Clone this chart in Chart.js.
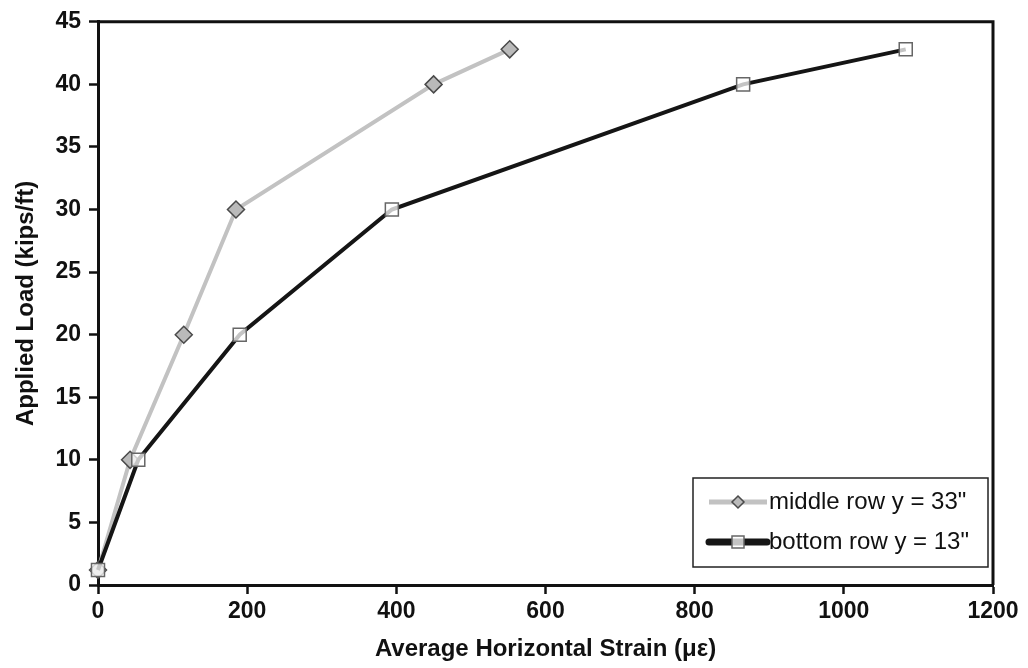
<!DOCTYPE html>
<html>
<head>
<meta charset="utf-8">
<title>Applied Load vs Average Horizontal Strain</title>
<script src="https://cdn.jsdelivr.net/npm/chart.js"></script>
<style>
  body { margin: 0; background: #fff; }
  #wrap { width: 1028px; height: 668px; position: relative; }
</style>
</head>
<body>
<div id="wrap"><canvas id="strainChart"></canvas></div>
<script>
// strain (microstrain) and load (kips/ft) for the two gauge rows
const middleStrain = [0, 43, 115, 185, 450, 552];
const middleLoad = [1.2, 10, 20, 30, 40, 42.8];
const bottomStrain = [0, 54, 190, 394, 865, 1083];
const bottomLoad = [1.2, 10, 20, 30, 40, 42.8];

const seriesLabels = ['middle row y = 33"', 'bottom row y = 13"'];

const toPoints = (xs, ys) => xs.map((x, i) => ({ x: x, y: ys[i] }));

const FONT = "'Liberation Sans', Arial, sans-serif";

// box around the plot area (top and right edges)
const frame = {
  id: 'frame',
  beforeDatasetsDraw(chart) {
    const { ctx, chartArea: a } = chart;
    ctx.save();
    ctx.strokeStyle = '#111';
    ctx.lineWidth = 3;
    ctx.beginPath();
    ctx.moveTo(a.left, a.top);
    ctx.lineTo(a.right, a.top);
    ctx.lineTo(a.right, a.bottom);
    ctx.stroke();
    ctx.restore();
  }
};

// legend box in the lower right corner of the plot
const boxLegend = {
  id: 'boxLegend',
  afterDraw(chart) {
    const { ctx, chartArea: a } = chart;
    const right = a.right - 5, bottom = a.bottom - 18;
    const left = right - 295, top = bottom - 89;
    ctx.save();
    ctx.fillStyle = '#fff';
    ctx.fillRect(left, top, right - left, bottom - top);
    ctx.strokeStyle = '#222';
    ctx.lineWidth = 1.5;
    ctx.strokeRect(left, top, right - left, bottom - top);

    const sets = chart.data.datasets;
    const rows = [top + 24, top + 64];
    const x0 = left + 16, x1 = left + 74, cx = (x0 + x1) / 2;
    [1, 0].forEach((di, r) => {
      const ds = sets[di];
      const y = rows[r];
      ctx.strokeStyle = ds.borderColor;
      ctx.lineWidth = r === 0 ? 5 : 7;
      ctx.lineCap = r === 0 ? 'butt' : 'round';
      ctx.beginPath();
      ctx.moveTo(x0, y);
      ctx.lineTo(x1, y);
      ctx.stroke();
      ctx.lineWidth = 1.5;
      ctx.fillStyle = ds.pointBackgroundColor;
      ctx.strokeStyle = ds.pointBorderColor;
      ctx.beginPath();
      if (ds.pointStyle === 'rectRot') {
        ctx.moveTo(cx, y - 6); ctx.lineTo(cx + 6, y);
        ctx.lineTo(cx, y + 6); ctx.lineTo(cx - 6, y);
        ctx.closePath();
      } else {
        ctx.rect(cx - 6, y - 6, 12, 12);
      }
      ctx.fill();
      ctx.stroke();
      ctx.fillStyle = '#111';
      ctx.font = '24px ' + FONT;
      ctx.textBaseline = 'middle';
      ctx.textAlign = 'left';
      ctx.fillText(ds.label, x1 + 2, y);
    });
    ctx.restore();
  }
};

new Chart(document.getElementById('strainChart'), {
  type: 'line',
  data: {
    datasets: [
      {
        label: seriesLabels[1],
        data: toPoints(bottomStrain, bottomLoad),
        borderColor: '#151515',
        borderWidth: 4,
        pointStyle: 'rect',
        pointRadius: 9.2,
        pointBackgroundColor: 'rgba(255,255,255,0.75)',
        pointBorderColor: '#666',
        pointBorderWidth: 1.5,
        tension: 0,
        clip: false,
        order: 1
      },
      {
        label: seriesLabels[0],
        data: toPoints(middleStrain, middleLoad),
        borderColor: '#c2c2c2',
        borderWidth: 4,
        pointStyle: 'rectRot',
        pointRadius: 8.5,
        pointBackgroundColor: '#bababa',
        pointBorderColor: '#4a4a4a',
        pointBorderWidth: 1.5,
        tension: 0,
        clip: false,
        order: 2
      }
    ]
  },
  options: {
    responsive: true,
    maintainAspectRatio: false,
    animation: false,
    layout: { padding: { left: 0, right: 35, top: 20, bottom: 0 } },
    plugins: {
      legend: { display: false },
      tooltip: { enabled: false }
    },
    scales: {
      x: {
        type: 'linear',
        min: 0,
        max: 1200,
        afterFit(scale) { scale.height = 83; },
        border: { color: '#111', width: 3 },
        grid: { drawOnChartArea: false, drawTicks: true, tickLength: 9, tickWidth: 2.5, tickColor: '#111', color: '#111' },
        ticks: {
          stepSize: 200,
          padding: 4,
          color: '#111',
          callback: (v) => String(v),
          font: { family: FONT, size: 23, weight: 'bold' }
        },
        title: {
          display: true,
          text: 'Average Horizontal Strain (\u03bc\u03b5)',
          color: '#111',
          padding: { top: 4, bottom: 4 },
          font: { family: FONT, size: 24, weight: 'bold' }
        }
      },
      y: {
        min: 0,
        max: 45,
        afterFit(scale) { scale.width = 98; },
        border: { color: '#111', width: 3 },
        grid: { drawOnChartArea: false, drawTicks: true, tickLength: 9, tickWidth: 2.5, tickColor: '#111', color: '#111' },
        ticks: {
          stepSize: 5,
          padding: 8,
          color: '#111',
          callback: (v) => String(v),
          font: { family: FONT, size: 23, weight: 'bold' }
        },
        title: {
          display: true,
          text: 'Applied Load (kips/ft)',
          color: '#111',
          padding: { top: 12, bottom: 0 },
          font: { family: FONT, size: 24, weight: 'bold' }
        }
      }
    }
  },
  plugins: [frame, boxLegend]
});
</script>
</body>
</html>
